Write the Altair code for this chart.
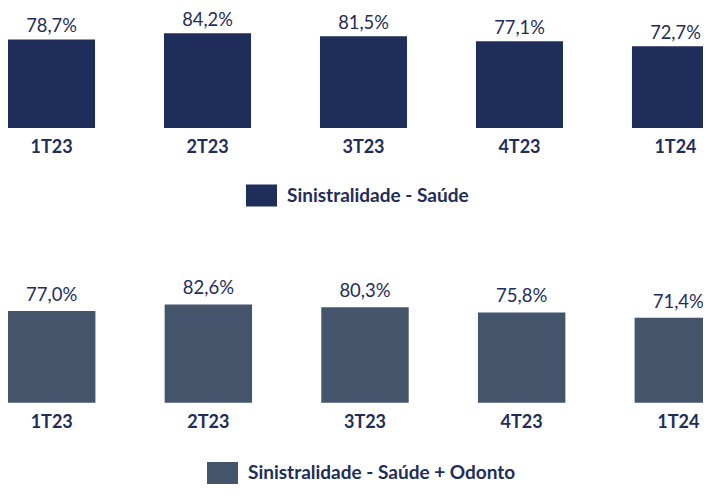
import altair as alt
import pandas as pd

quarters = ["1T23", "2T23", "3T23", "4T23", "1T24"]
saude = [78.7, 84.2, 81.5, 77.1, 72.7]
saude_odonto = [77.0, 82.6, 80.3, 75.8, 71.4]
series_names = ["Sinistralidade - Saúde", "Sinistralidade - Saúde + Odonto"]
bar_colors = ["#1F2D5A", "#44546A"]

TEXT = "#1F2D5A"
FONT = "Lato"
# wide rectangle legend swatch (31 x 22 px at symbolSize 484)
SYMBOL = "M-1.41,-1L1.41,-1L1.41,1L-1.41,1Z"

W, H = 695, 476          # plot area (whole chart, padding 0, autosize none)
TOP_BASE, TOP_PPU = 120, 1.125      # baseline (px from top) and px per % unit
BOT_BASE, BOT_PPU = 394.7, 1.19


def make_df(values, series):
    return pd.DataFrame({
        "quarter": quarters,
        "value": values,
        "zero": [0] * len(values),
        "label": [f"{v:.1f}".replace(".", ",") + "%" for v in values],
        "series": series,
    })


def panel(df, series, color, base, ppu, x_range, legend_x, legend_y, label_dy, label_size):
    x_scale = alt.Scale(type="band", range=x_range, paddingInner=0.442, paddingOuter=0)
    ydom = [-(H - base) / ppu, base / ppu]
    y_scale = alt.Scale(domain=ydom, nice=False, zero=False)
    x = alt.X("quarter:N", sort=quarters, scale=x_scale, axis=None)
    bars = alt.Chart(df).mark_bar().encode(
        x=x,
        y=alt.Y("value:Q", scale=y_scale, axis=None),
        y2="zero:Q",
        color=alt.Color(
            "series:N",
            scale=alt.Scale(domain=[series], range=[color]),
            legend=alt.Legend(
                title=None, orient="none", legendX=legend_x, legendY=legend_y,
                symbolType=SYMBOL, symbolSize=484, symbolStrokeWidth=0, symbolOpacity=1,
                labelFont=FONT, labelFontSize=19, labelFontWeight="bold", labelColor=TEXT,
                labelOffset=14.5, padding=0, labelLimit=500,
            ),
        ),
    )
    values = alt.Chart(df).mark_text(
        dy=label_dy, baseline="alphabetic", font=FONT, fontSize=label_size, color=TEXT
    ).encode(
        x=x,
        y=alt.Y("value:Q", scale=y_scale, axis=None),
        text="label:N",
    )
    categories = alt.Chart(df).mark_text(
        dy=11, baseline="top", font=FONT, fontSize=18, fontWeight="bold", color=TEXT
    ).encode(
        x=x,
        y=alt.Y("zero:Q", scale=y_scale, axis=None),
        text="quarter:N",
    )
    return alt.layer(bars, values, categories)


top_panel = panel(make_df(saude, series_names[0]), series_names[0], bar_colors[0],
                  TOP_BASE, TOP_PPU, [0, 711], 242.5, 176.5, -7, 18.3)
bottom_panel = panel(make_df(saude_odonto, series_names[1]), series_names[1], bar_colors[1],
                     BOT_BASE, BOT_PPU, [0, 714], 203.5, 454, -10, 18.5)

chart = (
    alt.layer(top_panel, bottom_panel)
    .resolve_scale(x="independent", y="independent", color="independent")
    .resolve_legend(color="independent")
    .properties(width=W, height=H, padding=0,
                autosize=alt.AutoSizeParams(type="none"))
    .configure_view(stroke=None)
)

chart.save("out.html", embed_options={"renderer": "svg", "actions": False})
